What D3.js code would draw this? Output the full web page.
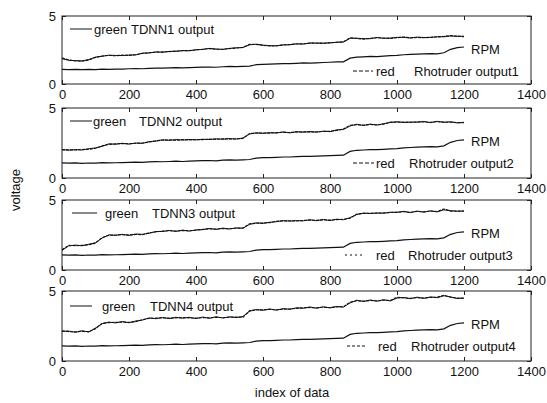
<!DOCTYPE html>
<html>
<head>
<meta charset="utf-8">
<script src="https://cdn.jsdelivr.net/npm/d3@7"></script>
<style>
  body { margin: 0; background: #fff; }
  text { font-family: "Liberation Sans", Arial, sans-serif; fill: #111; }
</style>
</head>
<body>
<svg id="chart" width="547" height="403"></svg>
<script>
// Sample positions along the data index (every 20th record)
const sampleIndex = d3.range(0, 1201, 20);

const xTicks = [0, 200, 400, 600, 800, 1000, 1200, 1400];
const yTicks = [0, 5];

// Engine speed signal, shared by all four sub-plots
const rpm = [
  1.08, 1.06, 1.08, 1.05, 1.07, 1.06, 1.10, 1.08, 1.09, 1.10,
  1.12, 1.14, 1.12, 1.15, 1.17, 1.16, 1.18, 1.20, 1.18, 1.21,
  1.22, 1.24, 1.25, 1.23, 1.27, 1.30, 1.28, 1.30, 1.32, 1.42,
  1.45, 1.46, 1.48, 1.50, 1.50, 1.52, 1.55, 1.54, 1.56, 1.58,
  1.60, 1.62, 1.63, 1.90, 1.98, 2.00, 2.03, 2.02, 2.05, 2.08,
  2.10, 2.15, 2.18, 2.20, 2.22, 2.24, 2.22, 2.30, 2.55, 2.68,
  2.72
];

// Measured Rhotruder outputs (dashed, "red")
const rhotruder1 = [
  1.92, 1.78, 1.70, 1.68, 1.76, 1.95, 2.06, 2.10, 2.08, 2.12,
  2.10, 2.16, 2.24, 2.30, 2.34, 2.36, 2.38, 2.42, 2.44, 2.46,
  2.50, 2.56, 2.60, 2.55, 2.56, 2.60, 2.64, 2.70, 2.92, 2.90,
  2.84, 2.80, 2.82, 2.86, 2.90, 2.94, 2.96, 3.00, 3.02, 2.98,
  3.04, 3.06, 3.10, 3.40, 3.34, 3.30, 3.36, 3.40, 3.38, 3.35,
  3.40, 3.46, 3.40, 3.42, 3.40, 3.44, 3.46, 3.50, 3.56, 3.50,
  3.48
];
const rhotruder2 = [
  2.00, 2.02, 2.00, 2.04, 2.05, 2.12, 2.30, 2.40, 2.44, 2.46,
  2.45, 2.48, 2.50, 2.56, 2.66, 2.70, 2.72, 2.70, 2.74, 2.72,
  2.75, 2.74, 2.78, 2.76, 2.80, 2.78, 2.80, 2.82, 3.18, 3.20,
  3.22, 3.20, 3.24, 3.26, 3.25, 3.28, 3.30, 3.28, 3.30, 3.32,
  3.34, 3.40, 3.50, 3.76, 3.80, 3.78, 3.82, 3.80, 3.84, 4.00,
  3.98, 4.00, 3.96, 4.02, 4.00, 3.98, 4.02, 4.00, 3.98, 3.96,
  3.95
];
const rhotruder3 = [
  1.45, 1.76, 1.74, 1.76, 1.80, 1.92, 2.32, 2.48, 2.50, 2.52,
  2.50, 2.54, 2.52, 2.66, 2.72, 2.78, 2.80, 2.78, 2.82, 2.80,
  2.84, 2.90, 2.94, 2.92, 2.96, 2.95, 2.98, 3.00, 3.30, 3.34,
  3.36, 3.38, 3.48, 3.50, 3.52, 3.50, 3.54, 3.56, 3.55, 3.58,
  3.56, 3.60, 3.62, 3.70, 4.00, 4.04, 4.06, 4.05, 4.08, 4.10,
  4.14, 4.16, 4.12, 4.18, 4.16, 4.20, 4.18, 4.36, 4.20, 4.22,
  4.20
];
const rhotruder4 = [
  2.15, 2.10, 2.08, 2.12, 2.10, 2.30, 2.70, 2.74, 2.76, 2.78,
  2.76, 2.80, 2.96, 3.04, 3.06, 3.08, 3.06, 3.08, 3.10, 3.08,
  3.06, 3.10, 3.08, 3.12, 3.10, 3.12, 3.14, 3.12, 3.60, 3.64,
  3.66, 3.68, 3.66, 3.70, 3.72, 3.76, 3.80, 3.82, 3.80, 3.84,
  3.82, 3.86, 3.88, 4.20, 4.30, 4.28, 4.32, 4.30, 4.34, 4.32,
  4.55, 4.50, 4.48, 4.52, 4.50, 4.54, 4.56, 4.70, 4.55, 4.50,
  4.48
];

// Network predictions (solid, "green")
const tdnn1 = [
  1.86, 1.74, 1.72, 1.70, 1.80, 1.98, 2.04, 2.12, 2.10, 2.09,
  2.13, 2.14, 2.27, 2.28, 2.36, 2.33, 2.40, 2.40, 2.46, 2.44,
  2.52, 2.54, 2.62, 2.57, 2.54, 2.62, 2.66, 2.68, 2.88, 2.93,
  2.86, 2.82, 2.80, 2.88, 2.88, 2.96, 2.93, 3.02, 3.00, 3.01,
  3.02, 3.08, 3.08, 3.36, 3.37, 3.33, 3.33, 3.42, 3.36, 3.38,
  3.43, 3.43, 3.38, 3.45, 3.42, 3.42, 3.48, 3.47, 3.53, 3.52,
  3.51
];
const tdnn2 = [
  2.04, 1.98, 2.03, 2.00, 2.09, 2.15, 2.26, 2.44, 2.41, 2.48,
  2.42, 2.50, 2.47, 2.60, 2.63, 2.73, 2.69, 2.74, 2.71, 2.75,
  2.72, 2.77, 2.75, 2.80, 2.77, 2.82, 2.78, 2.86, 3.14, 3.23,
  3.19, 3.24, 3.21, 3.29, 3.22, 3.31, 3.27, 3.32, 3.27, 3.35,
  3.31, 3.44, 3.46, 3.72, 3.84, 3.75, 3.85, 3.78, 3.88, 3.96,
  4.02, 3.96, 4.00, 3.98, 4.04, 3.95, 4.05, 3.97, 4.02, 3.93,
  3.98
];
const tdnn3 = [
  1.40, 1.72, 1.78, 1.73, 1.84, 1.95, 2.28, 2.51, 2.47, 2.55,
  2.47, 2.57, 2.55, 2.62, 2.75, 2.75, 2.83, 2.76, 2.85, 2.78,
  2.87, 2.88, 2.97, 2.90, 2.99, 2.93, 3.01, 2.98, 3.26, 3.37,
  3.33, 3.41, 3.45, 3.53, 3.49, 3.53, 3.51, 3.59, 3.52, 3.61,
  3.53, 3.63, 3.59, 3.74, 3.96, 4.07, 4.03, 4.08, 4.05, 4.13,
  4.11, 4.19, 4.10, 4.21, 4.13, 4.23, 4.15, 4.30, 4.24, 4.19,
  4.22
];
const tdnn4 = [
  2.12, 2.14, 2.05, 2.16, 2.07, 2.36, 2.66, 2.78, 2.72, 2.82,
  2.73, 2.86, 2.92, 3.08, 3.02, 3.11, 3.03, 3.12, 3.06, 3.12,
  3.03, 3.14, 3.05, 3.16, 3.07, 3.16, 3.10, 3.18, 3.55, 3.68,
  3.62, 3.72, 3.63, 3.74, 3.69, 3.80, 3.77, 3.86, 3.77, 3.87,
  3.79, 3.90, 3.85, 4.15, 4.34, 4.25, 4.36, 4.27, 4.38, 4.29,
  4.50, 4.54, 4.45, 4.56, 4.47, 4.58, 4.52, 4.66, 4.58, 4.46,
  4.50
];

const targets = [rhotruder1, rhotruder2, rhotruder3, rhotruder4];
const predictions = [tdnn1, tdnn2, tdnn3, tdnn4];
const netLabels = ["TDNN1 output", "TDNN2 output", "TDNN3 output", "TDNN4 output"];
const outLabels = ["Rhotruder output1", "Rhotruder output2", "Rhotruder output3", "Rhotruder output4"];

// ---- layout ----
const panelTop = [16, 108, 200, 291];
const panelBottom = [84, 178, 270, 361];
const legendLayout = [
  { sampleX: [70, 92], greenX: 94, netX: 131, topDy: 13, dashX: [353, 373], redX: 376, outX: 414, dash: "4,2" },
  { sampleX: [70, 92], greenX: 93, netX: 139, topDy: 13, dashX: [353, 374], redX: 376, outX: 409, dash: "4,2" },
  { sampleX: [72, 97], greenX: 105, netX: 152, topDy: 13, dashX: [345, 365], redX: 376, outX: 408, dash: "2,3" },
  { sampleX: [70, 92], greenX: 102, netX: 150, topDy: 15, dashX: [347, 367], redX: 378, outX: 411, dash: "3,2" }
];

const svg = d3.select("#chart");
const x = d3.scaleLinear().domain([0, 1400]).range([62, 531]);
const fontSize = 13;
const intFmt = d3.format("d");

targets.forEach((target, k) => {
  const top = panelTop[k], bottom = panelBottom[k];
  const y = d3.scaleLinear().domain([0, 5]).range([bottom, top]);
  const g = svg.append("g");

  // inward-pointing ticks on all four sides
  g.append("g").attr("transform", `translate(0,${bottom})`)
    .call(d3.axisBottom(x).tickValues(xTicks).tickFormat(intFmt)
      .tickSize(-4).tickSizeOuter(0).tickPadding(6));
  g.append("g").attr("transform", `translate(0,${top})`)
    .call(d3.axisTop(x).tickValues(xTicks).tickSize(-4).tickSizeOuter(0).tickFormat(""));
  g.append("g").attr("transform", `translate(${x.range()[0]},0)`)
    .call(d3.axisLeft(y).tickValues(yTicks).tickFormat(intFmt)
      .tickSize(-4).tickSizeOuter(0).tickPadding(6));
  g.append("g").attr("transform", `translate(${x.range()[1]},0)`)
    .call(d3.axisRight(y).tickValues(yTicks).tickSize(-4).tickSizeOuter(0).tickFormat(""));

  g.selectAll(".domain").remove();
  g.selectAll(".tick line").attr("stroke", "#222");
  g.selectAll(".tick text")
    .style("font-family", '"Liberation Sans", Arial, sans-serif')
    .style("font-size", fontSize + "px").attr("fill", "#111");

  // axes box
  g.append("rect")
    .attr("x", x.range()[0]).attr("y", top)
    .attr("width", x.range()[1] - x.range()[0]).attr("height", bottom - top)
    .attr("fill", "none").attr("stroke", "#222").attr("stroke-width", 1);

  const line = d3.line()
    .x((d, i) => x(sampleIndex[i]))
    .y(d => y(d));

  g.append("path").datum(rpm)
    .attr("d", line).attr("fill", "none").attr("stroke", "#111").attr("stroke-width", 1.2);
  g.append("path").datum(target)
    .attr("d", line).attr("fill", "none").attr("stroke", "#111").attr("stroke-width", 1.1)
    .attr("stroke-dasharray", "3,1");
  g.append("path").datum(predictions[k])
    .attr("d", line).attr("fill", "none").attr("stroke", "#111").attr("stroke-width", 1);

  // RPM label at the end of the speed curve
  g.append("text")
    .attr("x", 471).attr("y", y(rpm[rpm.length - 1]) + 2)
    .attr("dy", "0.35em").style("font-size", fontSize + "px").text("RPM");

  // legend entries
  const L = legendLayout[k];
  const ty = top + L.topDy;
  g.append("line").attr("x1", L.sampleX[0]).attr("x2", L.sampleX[1])
    .attr("y1", ty).attr("y2", ty).attr("stroke", "#111").attr("stroke-width", 1);
  g.append("text").attr("x", L.greenX).attr("y", ty).attr("dy", "0.35em")
    .style("font-size", fontSize + "px").text("green");
  g.append("text").attr("x", L.netX).attr("y", ty).attr("dy", "0.35em")
    .style("font-size", fontSize + "px").text(netLabels[k]);

  const by = top + 55;
  g.append("line").attr("x1", L.dashX[0]).attr("x2", L.dashX[1])
    .attr("y1", by).attr("y2", by).attr("stroke", "#111").attr("stroke-width", 1)
    .attr("stroke-dasharray", L.dash);
  g.append("text").attr("x", L.redX).attr("y", by).attr("dy", "0.35em")
    .style("font-size", fontSize + "px").text("red");
  g.append("text").attr("x", L.outX).attr("y", by).attr("dy", "0.35em")
    .style("font-size", fontSize + "px").text(outLabels[k]);
});

// shared axis titles
svg.append("text")
  .attr("transform", "translate(15,190) rotate(-90)")
  .attr("text-anchor", "middle").attr("dy", "0.35em")
  .style("font-size", fontSize + "px").text("voltage");
svg.append("text")
  .attr("x", 292).attr("y", 392).attr("dy", "0.35em")
  .attr("text-anchor", "middle")
  .style("font-size", fontSize + "px").text("index of data");
</script>
</body>
</html>
